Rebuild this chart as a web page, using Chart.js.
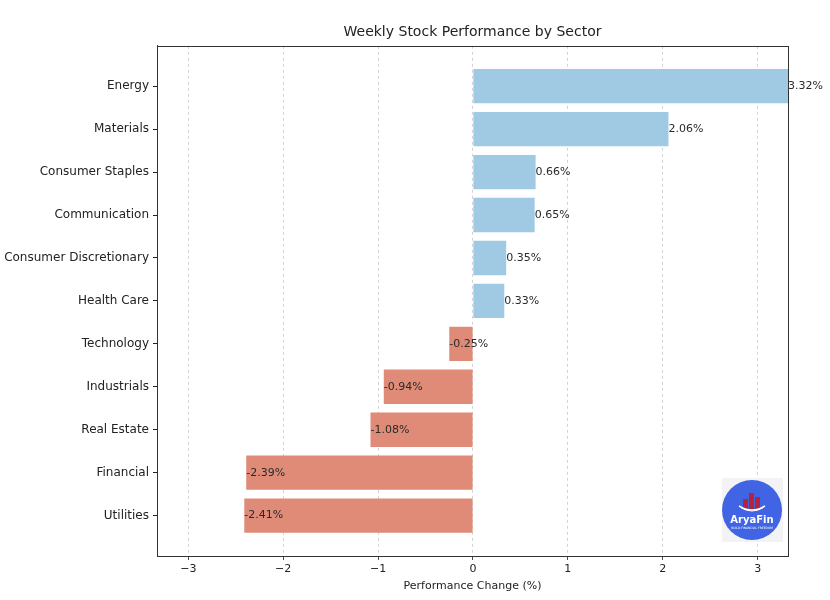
<!DOCTYPE html>
<html>
<head>
<meta charset="utf-8">
<script src="https://cdn.jsdelivr.net/npm/chart.js@4.4.1/dist/chart.umd.min.js"></script>
<style>
  html, body { margin: 0; padding: 0; background: #fff; }
  #wrap { width: 830px; height: 600px; }
</style>
</head>
<body>
<div id="wrap"><canvas id="c" width="830" height="600"></canvas></div>
<script>
// weekly sector performance, top to bottom
var sectors = ["Energy", "Materials", "Consumer Staples", "Communication", "Consumer Discretionary",
  "Health Care", "Technology", "Industrials", "Real Estate", "Financial", "Utilities"];
var changes = [3.32, 2.06, 0.66, 0.65, 0.35, 0.33, -0.25, -0.94, -1.08, -2.39, -2.41];
var xTicks = [-3, -2, -1, 0, 1, 2, 3];

var POS = "#a0c9e4", NEG = "#df8b78";
var FONT = "'DejaVu Sans', sans-serif";

var points = changes.map(function(v, i) { return { x: v, y: i }; });

// frame + value labels + logo
var extras = {
  id: "extras",
  afterDatasetsDraw: function(chart) {
    var ctx = chart.ctx, a = chart.chartArea;
    var xs = chart.scales.x, ys = chart.scales.y;
    ctx.save();
    ctx.font = "11px " + FONT;
    ctx.fillStyle = "#2a2a2a";
    ctx.textBaseline = "middle";
    ctx.textAlign = "left";
    for (var i = 0; i < changes.length; i++) {
      var v = changes[i];
      ctx.fillText(v.toFixed(2) + "%", xs.getPixelForValue(v), ys.getPixelForValue(i));
    }
    // top/right edge of the frame
    ctx.setLineDash([]);
    ctx.strokeStyle = "#333";
    ctx.lineWidth = 1;
    ctx.strokeRect(Math.round(a.left) + 0.5, Math.round(a.top) + 0.5, Math.round(a.right - a.left), Math.round(a.bottom - a.top));

    // logo
    var cx = a.right - 36, cy = a.bottom - 46;
    ctx.fillStyle = "#f3f3f5";
    ctx.fillRect(cx - 30, cy - 32, 61, 64);
    ctx.beginPath();
    ctx.arc(cx, cy, 30, 0, Math.PI * 2);
    ctx.fillStyle = "#4064e3";
    ctx.fill();
    ctx.fillStyle = "#b3243a";
    ctx.fillRect(cx - 9, cy - 11, 5, 10);
    ctx.fillRect(cx - 3, cy - 17, 5, 16);
    ctx.fillRect(cx + 3, cy - 13, 5, 12);
    ctx.strokeStyle = "#fff";
    ctx.lineWidth = 1.6;
    ctx.beginPath();
    ctx.arc(cx, cy - 22, 22, Math.PI * 0.3, Math.PI * 0.7);
    ctx.stroke();
    ctx.lineWidth = 1;
    ctx.beginPath();
    ctx.arc(cx, cy - 19, 20, Math.PI * 0.32, Math.PI * 0.68);
    ctx.stroke();
    ctx.fillStyle = "#fff";
    ctx.textAlign = "center";
    ctx.font = "bold 10px " + FONT;
    ctx.fillText("AryaFin", cx, cy + 10);
    ctx.font = "3px " + FONT;
    ctx.fillText("BUILD FINANCIAL FREEDOM", cx, cy + 18);
    ctx.restore();
  }
};

new Chart(document.getElementById("c"), {
  type: "bar",
  data: {
    datasets: [{
      data: points,
      backgroundColor: changes.map(function(v) { return v >= 0 ? POS : NEG; }),
      borderWidth: 0,
      barPercentage: 0.8,
      categoryPercentage: 1
    }]
  },
  plugins: [extras],
  options: {
    indexAxis: "y",
    responsive: false,
    animation: false,
    layout: { padding: { top: 24, right: 42, left: 0, bottom: 7 } },
    plugins: {
      legend: { display: false },
      tooltip: { enabled: false },
      title: {
        display: true,
        text: "Weekly Stock Performance by Sector",
        fullSize: false,
        color: "#222",
        font: { family: FONT, size: 14, weight: "normal" },
        padding: { top: 0, bottom: 5 }
      }
    },
    scales: {
      x: {
        type: "linear",
        min: -3.33, max: 3.32,
        afterBuildTicks: function(s) { s.ticks = xTicks.map(function(v) { return { value: v }; }); },
        afterFit: function(s) { s.height = 37; },
        grid: { color: "#c8c8c8", lineWidth: 0.8, tickColor: "#222", tickBorderDash: [], tickLength: 4 },
        border: { color: "#333", width: 1, dash: [3, 3] },
        ticks: {
          color: "#222", font: { family: FONT, size: 11 }, padding: 3,
          callback: function(v) { return v < 0 ? "\u2212" + Math.abs(v) : String(v); }
        },
        title: { display: true, text: "Performance Change (%)", color: "#222", font: { family: FONT, size: 11 }, padding: { top: 4, bottom: 0 } }
      },
      y: {
        type: "linear",
        reverse: true,
        offset: false,
        min: -0.94, max: 10.94,
        afterBuildTicks: function(s) { s.ticks = sectors.map(function(_, i) { return { value: i }; }); },
        afterFit: function(s) { s.width = 157; },
        grid: { offset: false, drawOnChartArea: false, color: "#222", tickLength: 4 },
        border: { color: "#333", width: 1 },
        ticks: {
          autoSkip: false, color: "#222", font: { family: FONT, size: 12 }, padding: 4,
          callback: function(v) { return sectors[v]; }
        }
      }
    }
  }
});
</script>
</body>
</html>
